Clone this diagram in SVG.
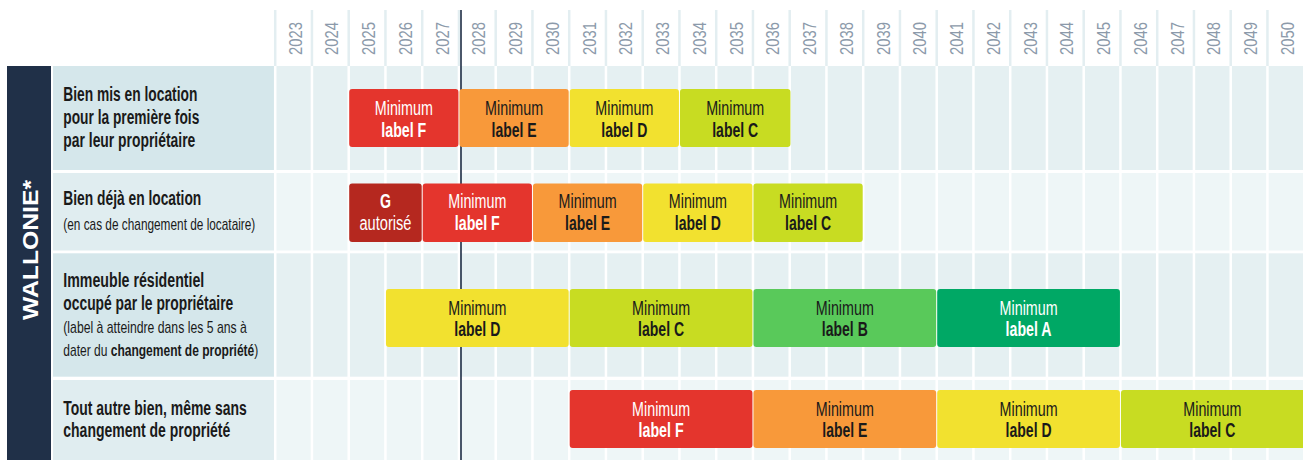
<svg xmlns="http://www.w3.org/2000/svg" width="1303" height="460" viewBox="0 0 1303 460">
<style>
text{font-family:"Liberation Sans",Arial,sans-serif}
.yr{font-size:18.5px;fill:#8c9aaa}
.t{font-size:20px;font-weight:bold;fill:#1a1a1a}
.s{font-size:17px;font-weight:normal;fill:#1a1a1a}
.sb{font-weight:bold}
.bm{font-size:20px;text-anchor:middle}
.bb{font-size:20px;font-weight:bold;text-anchor:middle}
.k{fill:#1a1a1a}
.w{fill:#ffffff}
.F{fill:#e4352d}.G{fill:#b5281f}.E{fill:#f8993a}.D{fill:#f2e12f}.C{fill:#c8dc22}.B{fill:#59c95a}.A{fill:#00a865}
.lab1{fill:#d5e7eb}.lab2{fill:#e0edf0}
.row1{fill:#e5f0f2}.row2{fill:#eef6f7}
</style>
<rect width="1303" height="460" fill="#ffffff"/>

<g id="header">
<path d="M275.2 10V66M311.95 10V66M348.7 10V66M385.45 10V66M422.2 10V66M458.95 10V66M495.7 10V66M532.45 10V66M569.2 10V66M605.95 10V66M642.7 10V66M679.45 10V66M716.2 10V66M752.95 10V66M789.7 10V66M826.45 10V66M863.2 10V66M899.95 10V66M936.7 10V66M973.45 10V66M1010.2 10V66M1046.95 10V66M1083.7 10V66M1120.45 10V66M1157.2 10V66M1193.95 10V66M1230.7 10V66M1267.45 10V66" stroke="#e3eef1" stroke-width="2.5" fill="none"/>
<g class="yr">
<text transform="translate(301.6,55) rotate(-90)" textLength="33" lengthAdjust="spacingAndGlyphs">2023</text>
<text transform="translate(338.35,55) rotate(-90)" textLength="33" lengthAdjust="spacingAndGlyphs">2024</text>
<text transform="translate(375.1,55) rotate(-90)" textLength="33" lengthAdjust="spacingAndGlyphs">2025</text>
<text transform="translate(411.85,55) rotate(-90)" textLength="33" lengthAdjust="spacingAndGlyphs">2026</text>
<text transform="translate(448.6,55) rotate(-90)" textLength="33" lengthAdjust="spacingAndGlyphs">2027</text>
<text transform="translate(485.35,55) rotate(-90)" textLength="33" lengthAdjust="spacingAndGlyphs">2028</text>
<text transform="translate(522.1,55) rotate(-90)" textLength="33" lengthAdjust="spacingAndGlyphs">2029</text>
<text transform="translate(558.85,55) rotate(-90)" textLength="33" lengthAdjust="spacingAndGlyphs">2030</text>
<text transform="translate(595.6,55) rotate(-90)" textLength="33" lengthAdjust="spacingAndGlyphs">2031</text>
<text transform="translate(632.35,55) rotate(-90)" textLength="33" lengthAdjust="spacingAndGlyphs">2032</text>
<text transform="translate(669.1,55) rotate(-90)" textLength="33" lengthAdjust="spacingAndGlyphs">2033</text>
<text transform="translate(705.85,55) rotate(-90)" textLength="33" lengthAdjust="spacingAndGlyphs">2034</text>
<text transform="translate(742.6,55) rotate(-90)" textLength="33" lengthAdjust="spacingAndGlyphs">2035</text>
<text transform="translate(779.35,55) rotate(-90)" textLength="33" lengthAdjust="spacingAndGlyphs">2036</text>
<text transform="translate(816.1,55) rotate(-90)" textLength="33" lengthAdjust="spacingAndGlyphs">2037</text>
<text transform="translate(852.85,55) rotate(-90)" textLength="33" lengthAdjust="spacingAndGlyphs">2038</text>
<text transform="translate(889.6,55) rotate(-90)" textLength="33" lengthAdjust="spacingAndGlyphs">2039</text>
<text transform="translate(926.35,55) rotate(-90)" textLength="33" lengthAdjust="spacingAndGlyphs">2040</text>
<text transform="translate(963.1,55) rotate(-90)" textLength="33" lengthAdjust="spacingAndGlyphs">2041</text>
<text transform="translate(999.85,55) rotate(-90)" textLength="33" lengthAdjust="spacingAndGlyphs">2042</text>
<text transform="translate(1036.6,55) rotate(-90)" textLength="33" lengthAdjust="spacingAndGlyphs">2043</text>
<text transform="translate(1073.35,55) rotate(-90)" textLength="33" lengthAdjust="spacingAndGlyphs">2044</text>
<text transform="translate(1110.1,55) rotate(-90)" textLength="33" lengthAdjust="spacingAndGlyphs">2045</text>
<text transform="translate(1146.85,55) rotate(-90)" textLength="33" lengthAdjust="spacingAndGlyphs">2046</text>
<text transform="translate(1183.6,55) rotate(-90)" textLength="33" lengthAdjust="spacingAndGlyphs">2047</text>
<text transform="translate(1220.35,55) rotate(-90)" textLength="33" lengthAdjust="spacingAndGlyphs">2048</text>
<text transform="translate(1257.1,55) rotate(-90)" textLength="33" lengthAdjust="spacingAndGlyphs">2049</text>
<text transform="translate(1293.85,55) rotate(-90)" textLength="33" lengthAdjust="spacingAndGlyphs">2050</text>
</g>
</g>

<g id="grid">
<rect class="lab1" x="53" y="66" width="221" height="104"/>
<rect class="row1" x="274" y="66" width="1029" height="104"/>
<rect class="lab2" x="53" y="173" width="221" height="77.5"/>
<rect class="row2" x="274" y="173" width="1029" height="77.5"/>
<rect class="lab1" x="53" y="253.3" width="221" height="123.4"/>
<rect class="row1" x="274" y="253.3" width="1029" height="123.4"/>
<rect class="lab2" x="53" y="380" width="221" height="80"/>
<rect class="row2" x="274" y="380" width="1029" height="80"/>
<path d="M275.2 66V460M311.95 66V460M348.7 66V460M385.45 66V460M422.2 66V460M458.95 66V460M495.7 66V460M532.45 66V460M569.2 66V460M605.95 66V460M642.7 66V460M679.45 66V460M716.2 66V460M752.95 66V460M789.7 66V460M826.45 66V460M863.2 66V460M899.95 66V460M936.7 66V460M973.45 66V460M1010.2 66V460M1046.95 66V460M1083.7 66V460M1120.45 66V460M1157.2 66V460M1193.95 66V460M1230.7 66V460M1267.45 66V460" stroke="#ffffff" stroke-width="2.5" fill="none"/>
</g>

<g id="region">
<rect x="7" y="66" width="44" height="394" fill="#203048"/>
<text transform="translate(37.5,250) rotate(-90)" text-anchor="middle" font-size="22" font-weight="bold" fill="#ffffff" textLength="140" lengthAdjust="spacingAndGlyphs">WALLONIE*</text>
</g>

<g id="connectors">
<line id="today-line" x1="461" y1="10" x2="461" y2="460" stroke="#1f2d45" stroke-width="1.6"/>
</g>

<g id="row-1">
<text class="t" x="63.3" y="101" textLength="134" lengthAdjust="spacingAndGlyphs">Bien mis en location</text>
<text class="t" x="63.3" y="124" textLength="136" lengthAdjust="spacingAndGlyphs">pour la première fois</text>
<text class="t" x="63.3" y="147" textLength="132" lengthAdjust="spacingAndGlyphs">par leur propriétaire</text>
<g id="r1-F"><rect class="F" x="349.2" y="89" width="109.25" height="58" rx="3"/><text class="bm w" x="403.8" y="115" textLength="58" lengthAdjust="spacingAndGlyphs">Minimum</text><text class="bb w" x="403.8" y="136.5" textLength="45" lengthAdjust="spacingAndGlyphs">label F</text></g>
<g id="r1-E"><rect class="E" x="459.45" y="89" width="109.25" height="58" rx="3"/><text class="bm k" x="514.1" y="115" textLength="58" lengthAdjust="spacingAndGlyphs">Minimum</text><text class="bb k" x="514.1" y="136.5" textLength="45" lengthAdjust="spacingAndGlyphs">label E</text></g>
<g id="r1-D"><rect class="D" x="569.7" y="89" width="109.25" height="58" rx="3"/><text class="bm k" x="624.3" y="115" textLength="58" lengthAdjust="spacingAndGlyphs">Minimum</text><text class="bb k" x="624.3" y="136.5" textLength="46" lengthAdjust="spacingAndGlyphs">label D</text></g>
<g id="r1-C"><rect class="C" x="679.95" y="89" width="110.5" height="58" rx="3"/><text class="bm k" x="735.2" y="115" textLength="58" lengthAdjust="spacingAndGlyphs">Minimum</text><text class="bb k" x="735.2" y="136.5" textLength="46" lengthAdjust="spacingAndGlyphs">label C</text></g>
</g>

<g id="row-2">
<text class="t" x="63.3" y="205" textLength="138" lengthAdjust="spacingAndGlyphs">Bien déjà en location</text>
<text class="s" x="63.3" y="230" textLength="192" lengthAdjust="spacingAndGlyphs">(en cas de changement de locataire)</text>
<g id="r2-G"><rect class="G" x="349.2" y="183.5" width="72.5" height="58.5" rx="3"/><text class="bb w" x="385.45" y="208.3" textLength="11" lengthAdjust="spacingAndGlyphs">G</text><text class="bm w" x="385.45" y="230" textLength="52" lengthAdjust="spacingAndGlyphs">autorisé</text></g>
<g id="r2-F"><rect class="F" x="422.7" y="183.5" width="109.25" height="58.5" rx="3"/><text class="bm w" x="477.3" y="208.3" textLength="58" lengthAdjust="spacingAndGlyphs">Minimum</text><text class="bb w" x="477.3" y="230" textLength="45" lengthAdjust="spacingAndGlyphs">label F</text></g>
<g id="r2-E"><rect class="E" x="532.95" y="183.5" width="109.25" height="58.5" rx="3"/><text class="bm k" x="587.6" y="208.3" textLength="58" lengthAdjust="spacingAndGlyphs">Minimum</text><text class="bb k" x="587.6" y="230" textLength="45" lengthAdjust="spacingAndGlyphs">label E</text></g>
<g id="r2-D"><rect class="D" x="643.2" y="183.5" width="109.25" height="58.5" rx="3"/><text class="bm k" x="697.8" y="208.3" textLength="58" lengthAdjust="spacingAndGlyphs">Minimum</text><text class="bb k" x="697.8" y="230" textLength="46" lengthAdjust="spacingAndGlyphs">label D</text></g>
<g id="r2-C"><rect class="C" x="753.45" y="183.5" width="109.25" height="58.5" rx="3"/><text class="bm k" x="808.1" y="208.3" textLength="58" lengthAdjust="spacingAndGlyphs">Minimum</text><text class="bb k" x="808.1" y="230" textLength="46" lengthAdjust="spacingAndGlyphs">label C</text></g>
</g>

<g id="row-3">
<text class="t" x="63.3" y="286.5" textLength="141" lengthAdjust="spacingAndGlyphs">Immeuble résidentiel</text>
<text class="t" x="63.3" y="310" textLength="170" lengthAdjust="spacingAndGlyphs">occupé par le propriétaire</text>
<text class="s" x="63.3" y="333.3" textLength="183.5" lengthAdjust="spacingAndGlyphs">(label à atteindre dans les 5 ans à</text>
<text class="s" x="63.3" y="355.7" textLength="195" lengthAdjust="spacingAndGlyphs">dater du <tspan class="sb">changement de propriété</tspan>)</text>
<g id="r3-D"><rect class="D" x="385.95" y="289" width="182.75" height="58" rx="3"/><text class="bm k" x="477.3" y="314.5" textLength="58" lengthAdjust="spacingAndGlyphs">Minimum</text><text class="bb k" x="477.3" y="336" textLength="46" lengthAdjust="spacingAndGlyphs">label D</text></g>
<g id="r3-C"><rect class="C" x="569.7" y="289" width="182.75" height="58" rx="3"/><text class="bm k" x="661.1" y="314.5" textLength="58" lengthAdjust="spacingAndGlyphs">Minimum</text><text class="bb k" x="661.1" y="336" textLength="46" lengthAdjust="spacingAndGlyphs">label C</text></g>
<g id="r3-B"><rect class="B" x="753.45" y="289" width="182.75" height="58" rx="3"/><text class="bm k" x="844.8" y="314.5" textLength="58" lengthAdjust="spacingAndGlyphs">Minimum</text><text class="bb k" x="844.8" y="336" textLength="46" lengthAdjust="spacingAndGlyphs">label B</text></g>
<g id="r3-A"><rect class="A" x="937.2" y="289" width="182.75" height="58" rx="3"/><text class="bm w" x="1028.6" y="314.5" textLength="58" lengthAdjust="spacingAndGlyphs">Minimum</text><text class="bb w" x="1028.6" y="336" textLength="46" lengthAdjust="spacingAndGlyphs">label A</text></g>
</g>

<g id="row-4">
<text class="t" x="63.3" y="415" textLength="183.5" lengthAdjust="spacingAndGlyphs">Tout autre bien, même sans</text>
<text class="t" x="63.3" y="436.5" textLength="167" lengthAdjust="spacingAndGlyphs">changement de propriété</text>
<g id="r4-F"><rect class="F" x="569.7" y="390" width="182.75" height="58" rx="3"/><text class="bm w" x="661.1" y="415.5" textLength="58" lengthAdjust="spacingAndGlyphs">Minimum</text><text class="bb w" x="661.1" y="437" textLength="45" lengthAdjust="spacingAndGlyphs">label F</text></g>
<g id="r4-E"><rect class="E" x="753.45" y="390" width="182.75" height="58" rx="3"/><text class="bm k" x="844.8" y="415.5" textLength="58" lengthAdjust="spacingAndGlyphs">Minimum</text><text class="bb k" x="844.8" y="437" textLength="45" lengthAdjust="spacingAndGlyphs">label E</text></g>
<g id="r4-D"><rect class="D" x="937.2" y="390" width="182.75" height="58" rx="3"/><text class="bm k" x="1028.6" y="415.5" textLength="58" lengthAdjust="spacingAndGlyphs">Minimum</text><text class="bb k" x="1028.6" y="437" textLength="46" lengthAdjust="spacingAndGlyphs">label D</text></g>
<g id="r4-C"><rect class="C" x="1120.95" y="390" width="200" height="58" rx="3"/><text class="bm k" x="1212.3" y="415.5" textLength="58" lengthAdjust="spacingAndGlyphs">Minimum</text><text class="bb k" x="1212.3" y="437" textLength="46" lengthAdjust="spacingAndGlyphs">label C</text></g>
</g>
</svg>
